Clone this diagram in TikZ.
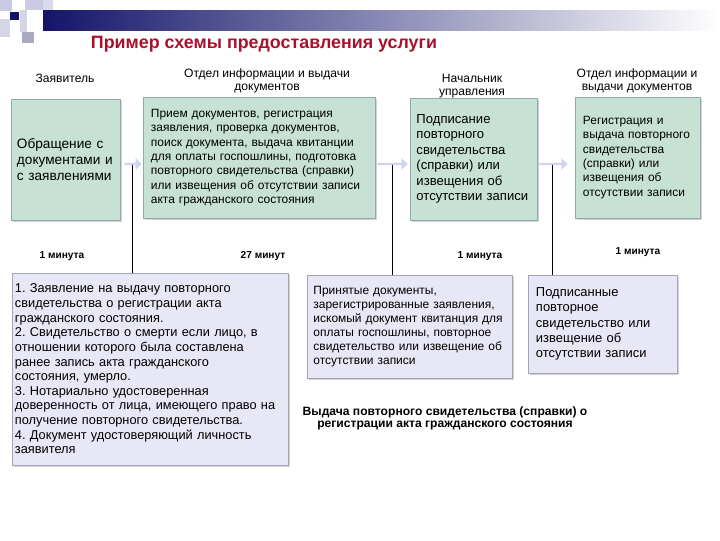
\documentclass[tikz,border=0pt]{standalone}
\usepackage{fontspec}
\setmainfont{Liberation Sans}
\usetikzlibrary{shapes.arrows, shadows}

\definecolor{boxgreen}{HTML}{C7E2D4}
\definecolor{greenedge}{HTML}{8FA9AE}
\definecolor{boxlilac}{HTML}{E7E7F5}
\definecolor{lilacedge}{HTML}{A3A3BA}
\definecolor{arrowlilac}{HTML}{D3D3EE}
\definecolor{titlered}{HTML}{A8102C}
\definecolor{barnavy}{HTML}{14146A}
\definecolor{barmid}{HTML}{9A9CB8}
\definecolor{decolilac}{HTML}{CACAE2}
\definecolor{decogray}{HTML}{A9AABF}

\frenchspacing

\begin{document}
\begin{tikzpicture}[x=0.025cm, y=-0.025cm,
    greenbox/.style={draw=greenedge, fill=boxgreen, line width=0.6pt, align=left,
        drop shadow={shadow xshift=1.2pt, shadow yshift=-1.6pt, opacity=0.35}},
    lilacbox/.style={draw=lilacedge, fill=boxlilac, line width=0.6pt, align=left,
        drop shadow={shadow xshift=1.2pt, shadow yshift=-1.6pt, opacity=0.35}},
    colhead/.style={font=\fontsize{8.6}{9.5}\selectfont, align=center},
    timelabel/.style={font=\fontsize{7.2}{8.5}\selectfont\bfseries},
    flowarrow/.style={single arrow, fill=arrowlilac, draw=none, minimum width=0.3cm,
        single arrow head extend=0.03cm, inner sep=0pt}]

    \useasboundingbox (0, 0) rectangle (720, 540);

    \fill[decolilac] (0, 0) rectangle (12, 11);
    \fill[decolilac] (25, 0) rectangle (43, 10);
    \fill[decolilac!70] (43, 0) rectangle (53, 10);
    \fill[decolilac!80] (0, 19) rectangle (10, 37);
    \fill[decolilac!80] (20, 10) rectangle (27, 32);
    \fill[decogray] (22, 32) rectangle (34, 43);
    \shade[left color=barnavy, middle color=barmid, right color=white] (43, 10) rectangle (720, 30);
    \fill[barnavy] (10, 12) rectangle (19, 20);

    \node (title) at (264, 44)[font=\fontsize{12.7}{15}\selectfont\bfseries, text=titlered] {Пример схемы предоставления услуги};

    \node (h1) at (65, 78)[colhead] {Заявитель};
    \node (h2) at (267, 81)[colhead] {Отдел информации и выдачи\\документов};
    \node (h3) at (472, 86)[colhead] {Начальник\\управления};
    \node (h4) at (637, 81)[colhead] {Отдел информации и\\выдачи документов};

    \node (zayav) at (65.5, 159.5)[greenbox, minimum width=2.725cm, minimum height=3.025cm,
        inner xsep=0.15cm, text width=2.425cm, font=\fontsize{9.7}{11.4}\selectfont]
        {Обращение с\\документами и\\с заявлениями};
    \node (priem) at (259, 157.5)[greenbox, minimum width=5.8cm, minimum height=3.025cm,
        inner xsep=0.2cm, text width=5.4cm, font=\fontsize{8.5}{10.2}\selectfont]
        {Прием документов, регистрация\\заявления, проверка документов,\\поиск документа, выдача квитанции\\для оплаты госпошлины, подготовка\\повторного свидетельства (справки)\\или извещения об отсутствии записи\\акта гражданского состояния};
    \node (podpis) at (473.5, 159)[greenbox, minimum width=3.175cm, minimum height=3.05cm,
        inner xsep=0.16cm, text width=2.85cm, font=\fontsize{9.3}{11}\selectfont]
        {Подписание\\повторного\\свидетельства\\(справки) или\\извещения об\\отсутствии записи};
    \node (vydacha) at (637.5, 157.5)[greenbox, minimum width=3.125cm, minimum height=3.025cm,
        inner xsep=0.2cm, text width=2.725cm, font=\fontsize{8.5}{10.2}\selectfont]
        {Регистрация и\\выдача повторного\\свидетельства\\(справки) или\\извещения об\\отсутствии записи\\[6pt]};

    \node (ar1) at (132.5, 164)[flowarrow, minimum height=0.425cm] {};
    \node (ar2) at (392, 164)[flowarrow, minimum height=0.75cm] {};
    \node (ar3) at (552.5, 164)[flowarrow, minimum height=0.725cm] {};

    \node (t1) at (62, 256)[timelabel] {1 минута};
    \node (t2) at (263, 256)[timelabel] {27 минут};
    \node (t3) at (480, 256)[timelabel] {1 минута};
    \node (t4) at (638, 252)[timelabel] {1 минута};

    \node (docs) at (150, 369)[lilacbox, minimum width=6.9cm, minimum height=4.8cm,
        inner xsep=0.075cm, text width=6.75cm, font=\fontsize{9.1}{10.4}\selectfont]
        {1. Заявление на выдачу повторного\\свидетельства о регистрации акта\\гражданского состояния.\\2. Свидетельство о смерти если лицо, в\\отношении которого была составлена\\ранее запись акта гражданского\\состояния, умерло.\\3. Нотариально удостоверенная\\доверенность от лица, имеющего право на\\получение повторного свидетельства.\\4. Документ удостоверяющий личность\\заявителя};
    \node (prinyat) at (409.5, 326.5)[lilacbox, minimum width=5.125cm, minimum height=2.575cm,
        inner xsep=0.15cm, text width=4.8cm, font=\fontsize{8.5}{10}\selectfont]
        {Принятые  документы,\\зарегистрированные заявления,\\искомый документ квитанция для\\оплаты госпошлины, повторное\\свидетельство или извещение об\\отсутствии записи};
    \node (podpisan) at (602.5, 324)[lilacbox, minimum width=3.725cm, minimum height=2.45cm,
        inner xsep=0.2cm, text width=3.325cm, font=\fontsize{9.2}{10.9}\selectfont]
        {Подписанные\\повторное\\свидетельство или\\извещение об\\отсутствии записи};

    \node (itog) at (445, 418)[font=\fontsize{8.6}{8.4}\selectfont\bfseries, align=center]
        {Выдача повторного свидетельства (справки) о\\регистрации акта гражданского состояния};

    \draw[black, thin] (ar1.south) -- (ar1.south |- docs.north);
    \draw[black, thin] (ar2.south) -- (ar2.south |- prinyat.north);
    \draw[black, thin] (ar3.south) -- (ar3.south |- podpisan.north);
\end{tikzpicture}
\end{document}
